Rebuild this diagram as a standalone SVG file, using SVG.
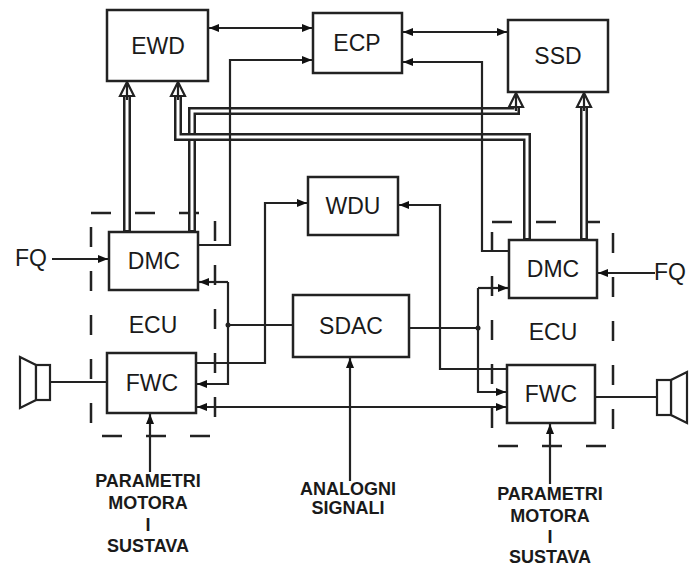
<svg xmlns="http://www.w3.org/2000/svg" width="690" height="566" viewBox="0 0 690 566">
<defs>
<style>
.box{fill:#fff;stroke:#222;stroke-width:2.5}
.lbl{font-family:"Liberation Sans",Arial,sans-serif;font-size:23px;fill:#1a1a1a;text-anchor:middle;dominant-baseline:central}
.sm{font-family:"Liberation Sans",Arial,sans-serif;font-size:18px;font-weight:bold;fill:#1a1a1a;text-anchor:middle;dominant-baseline:central}
.ln{fill:none;stroke:#222;stroke-width:2.2}
.dbo{fill:none;stroke:#222;stroke-width:8}
.dbi{fill:none;stroke:#fff;stroke-width:3}
.chev{fill:#fff;stroke:#222;stroke-width:2.2;stroke-linejoin:miter}
.ecu{fill:none;stroke:#222;stroke-width:2.5;stroke-dasharray:20 24}
</style>
<marker id="ah" markerWidth="10" markerHeight="8" refX="10" refY="4" orient="auto" markerUnits="userSpaceOnUse">
<path d="M0,0 L10,4 L0,8 Z" fill="#111"/>
</marker>
<marker id="as" markerWidth="10" markerHeight="8" refX="0" refY="4" orient="auto" markerUnits="userSpaceOnUse">
<path d="M10,0 L0,4 L10,8 Z" fill="#111"/>
</marker>
</defs>

<g id="ecu-left"><rect class="ecu" x="91" y="213" width="124" height="223"/><text class="lbl" x="153" y="325">ECU</text></g>
<g id="ecu-right"><rect class="ecu" x="492" y="222" width="121" height="224"/><text class="lbl" x="553" y="332">ECU</text></g>

<g id="connectors">
<!-- double line buses -->
<path class="dbo" d="M127,232 V94"/>
<path class="dbi" d="M127,230 V94"/>
<path class="dbo" d="M584,240 V105"/>
<path class="dbi" d="M584,238 V105"/>
<path class="dbo" d="M192,232 V111 H516 V105"/>
<path class="dbi" d="M192,230 V111 H516 V105"/>
<path class="dbo" d="M527,240 V137 H178 V94"/>
<path class="dbi" d="M527,238 V137 H178 V94"/>
<path class="chev" d="M120,96 L127,82 L134,96 Z"/>
<path class="chev" d="M171,96 L178,82 L185,96 Z"/>
<path class="chev" d="M509,107 L516,93 L523,107 Z"/>
<path class="chev" d="M577,107 L584,93 L591,107 Z"/>
<path class="ln" d="M127,84 V100 M178,84 V100 M516,95 V111 M584,95 V111" stroke-width="1.8"/>
<!-- single lines -->
<path class="ln" d="M198,245 H230 V60 H312" marker-end="url(#ah)"/>
<path class="ln" d="M509,251 H482 V62 H403" marker-end="url(#ah)"/>
<path class="ln" d="M209,28 H312" marker-start="url(#as)" marker-end="url(#ah)"/>
<path class="ln" d="M403,32 H507" marker-start="url(#as)" marker-end="url(#ah)"/>
<path class="ln" d="M196,363 H265 V203 H307" marker-end="url(#ah)"/>
<path class="ln" d="M507,369 H440 V205 H399" marker-end="url(#ah)"/>
<path class="ln" d="M293,325 H228"/>
<path class="ln" d="M228,282 H199" marker-end="url(#ah)"/>
<path class="ln" d="M228,282 V384 H197" marker-end="url(#ah)"/>
<circle cx="228" cy="325" r="2.5" fill="#222"/>
<path class="ln" d="M409,328 H478"/>
<path class="ln" d="M478,288 H508" marker-end="url(#ah)"/>
<path class="ln" d="M478,288 V392 H506" marker-end="url(#ah)"/>
<circle cx="478" cy="328" r="2.5" fill="#222"/>
<path class="ln" d="M197,407 H506" marker-start="url(#as)" marker-end="url(#ah)"/>
<path class="ln" d="M350,481 V358" marker-end="url(#ah)"/>
<path class="ln" d="M150,472 V414" marker-end="url(#ah)"/>
<path class="ln" d="M550,484 V424" marker-end="url(#ah)"/>
<path class="ln" d="M52,259 H108" marker-end="url(#ah)"/>
<path class="ln" d="M655,273 H598" marker-end="url(#ah)"/>
<path class="ln" d="M50,382 H107"/>
<path class="ln" d="M595,397 H657"/>
</g>

<g id="EWD"><rect class="box" x="107" y="10" width="101" height="71"/><text class="lbl" x="158" y="46">EWD</text></g>
<g id="ECP"><rect class="box" x="313" y="13" width="89" height="60"/><text class="lbl" x="357" y="43">ECP</text></g>
<g id="SSD"><rect class="box" x="508" y="20" width="100" height="72"/><text class="lbl" x="558" y="56">SSD</text></g>
<g id="WDU"><rect class="box" x="308" y="177" width="90" height="58"/><text class="lbl" x="353" y="206">WDU</text></g>
<g id="SDAC"><rect class="box" x="293" y="295" width="116" height="62"/><text class="lbl" x="351" y="326">SDAC</text></g>
<g id="DMC-left"><rect class="box" x="109" y="232" width="89" height="58"/><text class="lbl" x="154" y="261">DMC</text></g>
<g id="FWC-left"><rect class="box" x="107" y="353" width="89" height="60"/><text class="lbl" x="152" y="383">FWC</text></g>
<g id="DMC-right"><rect class="box" x="509" y="240" width="88" height="58"/><text class="lbl" x="553" y="269">DMC</text></g>
<g id="FWC-right"><rect class="box" x="507" y="365" width="88" height="58"/><text class="lbl" x="551" y="394">FWC</text></g>

<g id="FQ-left"><text class="lbl" x="31" y="258">FQ</text></g>
<g id="FQ-right"><text class="lbl" x="670" y="272">FQ</text></g>

<g id="speaker-left" fill="#fff" stroke="#222" stroke-width="2.2">
<path d="M20,357 L36,365 L36,400 L20,408 Z"/><rect x="36" y="365" width="14" height="35"/>
</g>
<g id="speaker-right" fill="#fff" stroke="#222" stroke-width="2.2">
<path d="M687,372 L671,380 L671,415 L687,423 Z"/><rect x="657" y="380" width="14" height="35"/>
</g>

<g id="label-left">
<text class="sm" x="148" y="481">PARAMETRI</text>
<text class="sm" x="148" y="503">MOTORA</text>
<text class="sm" x="148" y="525">I</text>
<text class="sm" x="148" y="546">SUSTAVA</text>
</g>
<g id="label-mid">
<text class="sm" x="348" y="489">ANALOGNI</text>
<text class="sm" x="348" y="508">SIGNALI</text>
</g>
<g id="label-right">
<text class="sm" x="550" y="494">PARAMETRI</text>
<text class="sm" x="550" y="516">MOTORA</text>
<text class="sm" x="550" y="537">I</text>
<text class="sm" x="550" y="557">SUSTAVA</text>
</g>
</svg>
